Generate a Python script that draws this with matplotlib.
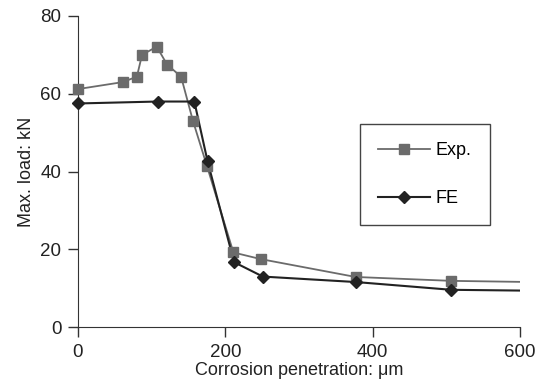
import numpy as np
import matplotlib
matplotlib.use("Agg")
import matplotlib.pyplot as plt
from matplotlib.lines import Line2D

plt.rcParams['font.family'] = ['Liberation Sans', 'DejaVu Sans']

# Experimental results (squares)
exp_x = [0, 61, 80, 87, 107, 121, 140, 156, 175, 211, 248, 377, 507, 650]
exp_y = [61.2, 63.0, 64.4, 70.0, 72.1, 67.5, 64.4, 53.1, 41.5, 19.2, 17.5, 12.9, 11.9, 11.5]

# FE results (diamonds)
fe_x = [0, 108, 158, 176, 212, 251, 377, 507, 650]
fe_y = [57.5, 58.0, 58.0, 42.6, 16.7, 13.0, 11.6, 9.6, 9.3]

x_ticks = [0, 200, 400, 600]
y_ticks = [0, 20, 40, 60, 80]

fig = plt.figure(figsize=(5.49, 3.89), dpi=100)
ax = fig.add_axes([0.142, 0.159, 0.805, 0.800])

exp_color = '#6b6b6b'
fe_color = '#222222'

# lines are clipped at the axes edge, markers are not
ax.plot(exp_x, exp_y, color=exp_color, linewidth=1.3)
ax.plot(fe_x, fe_y, color=fe_color, linewidth=1.5)
ax.plot(exp_x[:-1], exp_y[:-1], linestyle='none', marker='s', markersize=7,
        color=exp_color, clip_on=False, zorder=3)
ax.plot(fe_x[:-1], fe_y[:-1], linestyle='none', marker='D', markersize=6.5,
        color=fe_color, clip_on=False, zorder=4)

ax.set_xlim(0, 600)
ax.set_ylim(0, 80)
ax.set_xticks(x_ticks)
ax.set_yticks(y_ticks)

ax.spines['top'].set_visible(False)
ax.spines['right'].set_visible(False)
ax.spines['left'].set_color('#333333')
ax.spines['bottom'].set_color('#333333')
ax.tick_params(direction='out', length=7, width=1, colors='#333333',
               labelsize=13.5, labelcolor='#222222', pad=5)

ax.set_xlabel('Corrosion penetration: \u03bcm', fontsize=13, color='#222222', labelpad=1)
ax.set_ylabel('Max. load: kN', fontsize=13, color='#222222', labelpad=4)

handles = [
    Line2D([], [], color=exp_color, linewidth=1.3, marker='s', markersize=7),
    Line2D([], [], color=fe_color, linewidth=1.5, marker='D', markersize=6.5),
]
leg = ax.legend(handles, ['Exp.', 'FE'], loc='upper left',
                bbox_to_anchor=(0.638, 0.652), fontsize=13,
                handlelength=2.9, labelspacing=1.7, borderpad=1.0,
                handletextpad=0.3, borderaxespad=0, fancybox=False,
                framealpha=1, edgecolor='#444444')
leg.get_frame().set_linewidth(1.0)

fig.savefig('out.png', dpi=100)
